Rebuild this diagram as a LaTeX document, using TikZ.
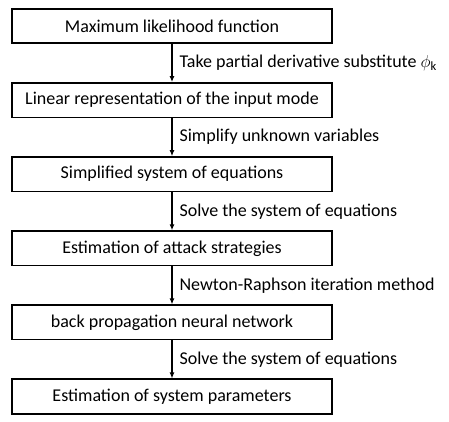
\documentclass[tikz,border=0pt]{standalone}
\usepackage{fontspec}
\setmainfont{Carlito}
\usepackage{tikz}
\usetikzlibrary{arrows.meta,positioning}

\begin{document}
\begin{tikzpicture}[
  x=1pt, y=1pt,
  node distance=38pt,
  box/.style={draw, line width=1.6pt, minimum width=320pt, minimum height=34.5pt, inner sep=0pt, align=center, font=\fontsize{18}{21}\selectfont},
  lbl/.style={anchor=west, xshift=7pt, inner sep=0pt, font=\fontsize{18}{21}\selectfont},
  arr/.style={line width=1.1pt, -{Latex[length=6pt, width=5pt]}}
]
\useasboundingbox (0,0) rectangle (449,-422);

\node[box] (n1) at (172,-26) {Maximum likelihood function};
\node[box, below=of n1] (n2) {Linear representation of the input mode};
\node[box, below=of n2] (n3) {Simplified system of equations};
\node[box, below=of n3] (n4) {Estimation of attack strategies};
\node[box, below=of n4] (n5) {back propagation neural network};
\node[box, below=of n5] (n6) {Estimation of system parameters};

\draw[arr] (n1)-- node[lbl] {Take partial derivative substitute $\phi_{\mathrm{k}}$} (n2);
\draw[arr] (n2)-- node[lbl] {Simplify unknown variables} (n3);
\draw[arr] (n3)-- node[lbl] {Solve the system of equations} (n4);
\draw[arr] (n4)-- node[lbl] {Newton-Raphson iteration method} (n5);
\draw[arr] (n5)-- node[lbl] {Solve the system of equations} (n6);
\end{tikzpicture}
\end{document}
